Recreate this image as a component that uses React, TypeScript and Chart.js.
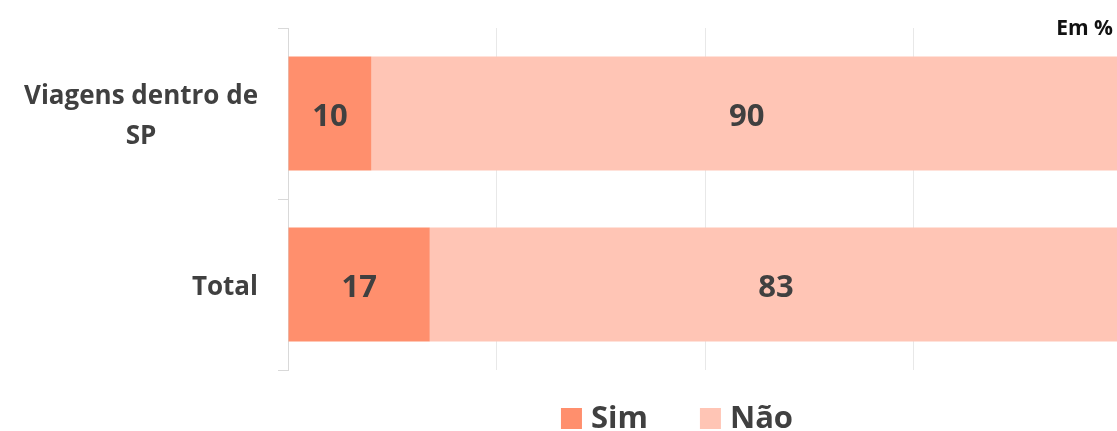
import React, { useEffect, useRef } from "react";
import { Chart, registerables } from "chart.js";

Chart.register(...registerables);

// ---- data ----
const categories: (string | string[])[] = [["Viagens dentro de", "SP"], ["Total"]];
const seriesNames = ["Sim", "Não"];
const simValues = [10, 17];
const naoValues = [90, 83];
const seriesColors = ["#FF8F6D", "#FFC5B5"];
const xTickStep = 25;
const xMax = 100;
const unitLabel = "Em %";

const FONT = "'Open Sans', Lato, sans-serif";
const TEXT = "#404040";

const customDraw = {
  id: "customDraw",
  afterDatasetsDraw(chart: any) {
    const ctx = chart.ctx;
    ctx.save();
    ctx.font = `bold 31px ${FONT}`;
    ctx.fillStyle = TEXT;
    ctx.textAlign = "center";
    ctx.textBaseline = "alphabetic";
    chart.data.datasets.forEach((ds: any, di: number) => {
      const meta = chart.getDatasetMeta(di);
      meta.data.forEach((el: any, i: number) => {
        const { x, base, y } = el.getProps(["x", "base", "y"], true);
        ctx.fillText(String(ds.data[i]), (x + base) / 2, y + 12);
      });
    });
    ctx.restore();
  },
  afterDraw(chart: any) {
    const ctx = chart.ctx;
    const area = chart.chartArea;
    const yScale = chart.scales.y;
    ctx.save();

    // category labels (right-aligned block, lines centered inside block)
    ctx.font = `bold 26px ${FONT}`;
    ctx.fillStyle = TEXT;
    ctx.textAlign = "center";
    ctx.textBaseline = "alphabetic";
    const rightEdge = area.left - 30;
    const lineH = 40;
    (chart.data.labels as any[]).forEach((lab: any, i: number) => {
      const lines: string[] = Array.isArray(lab) ? lab : [lab];
      const bw = Math.max(...lines.map((l) => ctx.measureText(l).width));
      const cx = rightEdge - bw / 2;
      const cy = yScale.getPixelForValue(i);
      lines.forEach((l, k) => {
        const ly = cy - ((lines.length - 1) * lineH) / 2 + k * lineH;
        ctx.fillText(l, cx, ly + 10);
      });
    });

    // legend
    ctx.font = `bold 31px ${FONT}`;
    const box = 21;
    const gapText = 9;
    const gapItem = 52;
    const items = chart.data.datasets.map((ds: any) => ({
      label: ds.label,
      color: ds.backgroundColor,
      w: box + gapText + ctx.measureText(ds.label).width,
    }));
    const total = items.reduce((s: number, it: any) => s + it.w, 0) + gapItem * (items.length - 1);
    let lx = 677 - total / 2;
    const boxTop = area.bottom + 38;
    items.forEach((it: any) => {
      ctx.fillStyle = it.color;
      ctx.fillRect(lx, boxTop, box, box);
      ctx.fillStyle = TEXT;
      ctx.textAlign = "left";
      ctx.fillText(it.label, lx + box + gapText, boxTop + 20);
      lx += it.w + gapItem;
    });

    // unit label
    ctx.font = `bold 21px ${FONT}`;
    ctx.fillStyle = "#111111";
    ctx.textAlign = "right";
    ctx.fillText(unitLabel, 1113, 35);
    ctx.restore();
  },
};

export default function App() {
  const ref = useRef<HTMLCanvasElement | null>(null);

  useEffect(() => {
    if (!ref.current) return;
    const chart = new Chart(ref.current, {
      type: "bar",
      data: {
        labels: categories as any,
        datasets: [
          {
            label: seriesNames[0],
            data: simValues,
            backgroundColor: seriesColors[0],
            barPercentage: 1,
            categoryPercentage: 0.667,
          },
          {
            label: seriesNames[1],
            data: naoValues,
            backgroundColor: seriesColors[1],
            barPercentage: 1,
            categoryPercentage: 0.667,
          },
        ],
      },
      options: {
        indexAxis: "y",
        animation: false,
        responsive: true,
        maintainAspectRatio: false,
        layout: { padding: { top: 28, bottom: 61, left: 0, right: 0 } },
        plugins: {
          legend: { display: false },
          tooltip: { enabled: false },
          title: { display: false },
        },
        scales: {
          x: {
            stacked: true,
            min: 0,
            max: xMax,
            ticks: { display: false, stepSize: xTickStep },
            grid: {
              color: (c: any) => (c.index === 0 ? "rgba(0,0,0,0)" : "#e8e8e8"),
              drawTicks: false,
              lineWidth: 1,
            },
            border: { display: false },
            afterFit: (s: any) => {
              s.height = 0;
            },
          },
          y: {
            stacked: true,
            ticks: { display: false },
            grid: {
              drawOnChartArea: false,
              drawTicks: true,
              tickLength: 10,
              color: "#d9d9d9",
            },
            border: { display: true, color: "#d9d9d9" },
            afterFit: (s: any) => {
              s.width = 288;
            },
          },
        },
      } as any,
      plugins: [customDraw],
    });
    return () => chart.destroy();
  }, []);

  return (
    <div
      style={{
        position: "absolute",
        left: 0,
        top: 0,
        width: 1117,
        height: 431,
        overflow: "hidden",
        background: "#ffffff",
      }}
    >
      <div style={{ position: "relative", width: 1122, height: 431 }}>
        <canvas ref={ref} />
      </div>
    </div>
  );
}
